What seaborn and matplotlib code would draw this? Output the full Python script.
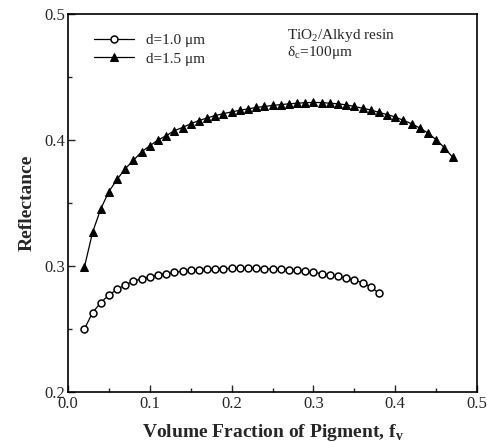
import numpy as np
import pandas as pd
import seaborn as sns
import matplotlib
matplotlib.use("Agg")
import matplotlib.pyplot as plt
from matplotlib.ticker import MultipleLocator

fv_circ = [0.02, 0.03, 0.04, 0.05, 0.06, 0.07, 0.08, 0.09, 0.10, 0.11, 0.12, 0.13,
           0.14, 0.15, 0.16, 0.17, 0.18, 0.19, 0.20, 0.21, 0.22, 0.23, 0.24, 0.25,
           0.26, 0.27, 0.28, 0.29, 0.30, 0.31, 0.32, 0.33, 0.34, 0.35, 0.36, 0.37, 0.38]
r_circ = [0.250, 0.263, 0.271, 0.277, 0.2815, 0.285, 0.288, 0.290, 0.2915, 0.293,
          0.294, 0.295, 0.2958, 0.2965, 0.297, 0.2974, 0.2977, 0.298, 0.2982, 0.2983,
          0.2983, 0.2982, 0.298, 0.2977, 0.2974, 0.297, 0.2965, 0.2958, 0.295, 0.294,
          0.293, 0.2918, 0.2905, 0.2888, 0.2868, 0.2835, 0.2785]

fv_tri = [0.02, 0.03, 0.04, 0.05, 0.06, 0.07, 0.08, 0.09, 0.10, 0.11, 0.12, 0.13,
          0.14, 0.15, 0.16, 0.17, 0.18, 0.19, 0.20, 0.21, 0.22, 0.23, 0.24, 0.25,
          0.26, 0.27, 0.28, 0.29, 0.30, 0.31, 0.32, 0.33, 0.34, 0.35, 0.36, 0.37,
          0.38, 0.39, 0.40, 0.41, 0.42, 0.43, 0.44, 0.45, 0.46, 0.47]
r_tri = [0.299, 0.3267, 0.3453, 0.3592, 0.3688, 0.3773, 0.384, 0.3907, 0.3955, 0.400,
         0.4035, 0.4075, 0.410, 0.413, 0.4155, 0.4176, 0.4195, 0.421, 0.4224, 0.4237,
         0.4248, 0.4259, 0.4267, 0.4275, 0.4282, 0.4288, 0.4293, 0.4297, 0.4299, 0.4298,
         0.4293, 0.4288, 0.428, 0.4267, 0.4253, 0.424, 0.422, 0.4203, 0.4184, 0.4157,
         0.413, 0.4096, 0.4056, 0.4003, 0.394, 0.3865]

labels = ["d=1.0 \u03bcm", "d=1.5 \u03bcm"]

df = pd.concat([
    pd.DataFrame({"fv": fv_circ, "R": r_circ, "series": labels[0]}),
    pd.DataFrame({"fv": fv_tri, "R": r_tri, "series": labels[1]}),
])

sns.set_style("ticks")
plt.rcParams['font.family'] = ['Liberation Serif', 'DejaVu Serif']

fig = plt.figure(figsize=(4.87, 4.42), dpi=100)
ax = fig.add_axes([0.1396, 0.113, 0.84, 0.855])

sns.lineplot(data=df, x="fv", y="R", hue="series", style="series",
             markers={labels[0]: "o", labels[1]: "^"}, dashes=False,
             palette={labels[0]: "black", labels[1]: "black"},
             linewidth=0.9, markersize=5, ax=ax, legend=True)


def style_line(line):
    if line.get_marker() == "o":
        line.set_markerfacecolor("white")
        line.set_markeredgecolor("black")
        line.set_markeredgewidth(1.1)
        line.set_markersize(5)
    elif line.get_marker() == "^":
        line.set_markerfacecolor("black")
        line.set_markeredgecolor("black")
        line.set_markersize(5.8)


for line in ax.lines:
    style_line(line)

ax.set_xlim(0.0, 0.5)
ax.set_ylim(0.2, 0.5)
ax.xaxis.set_major_locator(MultipleLocator(0.1))
ax.xaxis.set_minor_locator(MultipleLocator(0.05))
ax.yaxis.set_major_locator(MultipleLocator(0.1))
ax.yaxis.set_minor_locator(MultipleLocator(0.05))
ax.tick_params(which="both", direction="in", top=False, right=False, labelsize=12, width=1)
ax.tick_params(axis="x", pad=3)
ax.tick_params(axis="y", pad=2)
ax.tick_params(which="major", length=5)
ax.tick_params(which="minor", length=3)
ax.xaxis.set_major_formatter(matplotlib.ticker.FormatStrFormatter("%.1f"))
ax.yaxis.set_major_formatter(matplotlib.ticker.FormatStrFormatter("%.1f"))
for s in ax.spines.values():
    s.set_linewidth(1.2)
    s.set_color("black")

ax.set_xlabel("Volume Fraction of Pigment, f$_\\mathregular{v}$", fontsize=14, fontweight="bold", labelpad=7)
ax.set_ylabel("Reflectance", fontsize=14, fontweight="bold", labelpad=6)

handles, labs = ax.get_legend_handles_labels()
for h in handles:
    style_line(h)
leg = ax.legend(handles, labs, loc="upper left", frameon=False, fontsize=11,
                handlelength=2.6, bbox_to_anchor=(0.03, 0.985), labelspacing=0.3)

ax.text(0.535, 0.965, "TiO$_\\mathregular{2}$/Alkyd resin", transform=ax.transAxes,
        fontsize=11, va="top")
ax.text(0.535, 0.92, "\u03b4$_\\mathregular{c}$=100\u03bcm", transform=ax.transAxes,
        fontsize=11, va="top")

fig.savefig("out.png", dpi=100)
